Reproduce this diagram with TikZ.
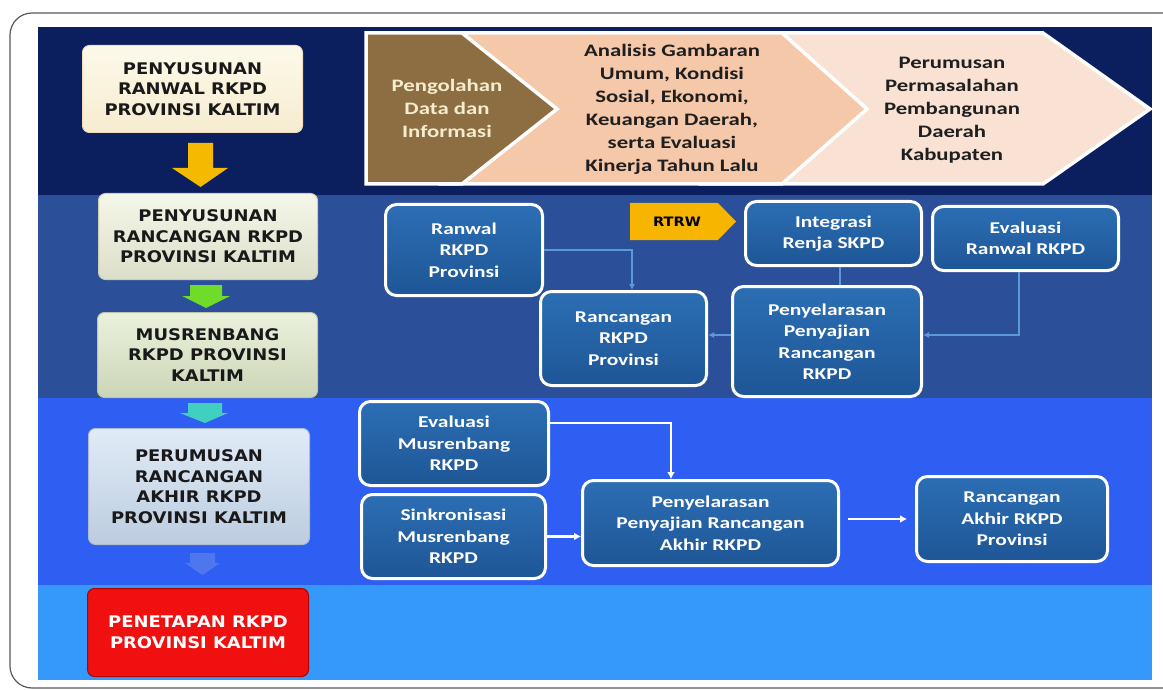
\documentclass[tikz,border=0pt]{standalone}
\usepackage{fontspec}
\newfontfamily\calb[FakeStretch=1.3]{Carlito}
\newfontfamily\dvb[FakeStretch=1.12]{DejaVu Sans}
\usetikzlibrary{arrows.meta,calc,shadows}
\definecolor{bandA}{RGB}{11,31,94}
\definecolor{bandB}{RGB}{43,79,152}
\definecolor{bandC}{RGB}{47,95,242}
\definecolor{bandD}{RGB}{53,152,251}
\definecolor{boxtop}{RGB}{44,110,180}
\definecolor{boxbot}{RGB}{30,86,150}
\definecolor{brownc}{RGB}{140,110,66}
\definecolor{peach}{RGB}{245,200,170}
\definecolor{lpeach}{RGB}{249,226,212}
\definecolor{cream}{RGB}{245,236,205}
\definecolor{lineblue}{RGB}{92,154,214}
\definecolor{gold}{RGB}{247,181,0}
\definecolor{arrY}{RGB}{245,185,0}
\definecolor{arrG}{RGB}{110,220,40}
\definecolor{arrC}{RGB}{64,208,192}
\definecolor{arrF}{RGB}{105,140,235}
\definecolor{boxA}{RGB}{251,245,220}
\definecolor{boxB}{RGB}{238,242,218}
\definecolor{boxC}{RGB}{221,232,198}
\definecolor{boxD}{RGB}{204,222,242}
\definecolor{redbox}{RGB}{240,16,16}
\begin{document}
\begin{tikzpicture}[x=1pt,y=-1pt,
  frame/.style={draw=black!65, line width=1.2pt, rounded corners=22pt},
  chev/.style={draw=white, line width=3.5pt, line join=miter},
  chtxt/.style={align=center, inner sep=0pt, text=black!88, font=\calb\bfseries\fontsize{17.5}{23}\selectfont},
  lbox/.style={rounded corners=7pt, align=center, inner sep=0pt, line width=1pt, text=black!90, font=\dvb\bfseries\fontsize{16}{20.5}\selectfont},
  bbox/.style={rounded corners=11pt, draw=white, line width=3pt, top color=boxtop, bottom color=boxbot, text=white, align=center, inner sep=0pt, drop shadow={shadow xshift=1pt, shadow yshift=-1.5pt, opacity=0.45}, font=\calb\bfseries\fontsize{16.5}{21.5}\selectfont},
  lconn/.style={draw=lineblue, line width=2pt, -{Latex[length=6pt,width=6pt]}},
  wconn/.style={draw=white, line width=2.8pt, -{Latex[length=7pt,width=8pt]}}
]
\useasboundingbox (0,0) rectangle (1163,690);
\clip (0,0) rectangle (1163,690);
\fill[white] (0,0) rectangle (1163,690);
\draw[frame] (1185,13) -- (10,13) -- (10,688) -- (1185,688);

% bands
\fill[bandA] (38,27) rectangle (1152,195);
\fill[bandB] (38,195) rectangle (1152,398);
\fill[bandC] (38,398) rectangle (1152,585);
\fill[bandD] (38,585) rectangle (1152,680);

% chevrons
\draw[chev, fill=lpeach] (700,33) -- (1043,33) -- (1150,109) -- (1043,184) -- (700,184) -- cycle;
\draw[chev, fill=peach] (440,33) -- (782,33) -- (867,109) -- (782,184) -- (440,184) -- cycle;
\draw[chev, fill=brownc] (366,33) -- (462,33) -- (557,109) -- (462,184) -- (366,184) -- cycle;
\node[chtxt, text=cream] (c1) at (447,108) {Pengolahan\\Data dan\\Informasi};
\node[chtxt] (c2) at (672,109) {Analisis Gambaran\\Umum, Kondisi\\Sosial, Ekonomi,\\Keuangan Daerah,\\serta Evaluasi\\Kinerja Tahun Lalu};
\node[chtxt] (c3) at (952,110) {Perumusan\\Permasalahan\\Pembangunan\\Daerah\\Kabupaten};

% left column
\node[lbox, top color=white!40!boxA, bottom color=boxA!92!brown, draw=boxA!80!brown, minimum width=220pt, minimum height=87pt] (L1) at (192.5,89) {PENYUSUNAN\\RANWAL RKPD\\PROVINSI KALTIM};
\node[lbox, top color=white!40!boxB, bottom color=boxB!92!black, draw=boxB!85!black, minimum width=219pt, minimum height=86pt] (L2) at (208,236.5) {PENYUSUNAN\\RANCANGAN RKPD\\PROVINSI KALTIM};
\node[lbox, top color=white!40!boxC, bottom color=boxC!92!black, draw=boxC!85!black, minimum width=220pt, minimum height=85pt] (L3) at (207.5,355) {MUSRENBANG\\RKPD PROVINSI\\KALTIM};
\node[lbox, top color=white!40!boxD, bottom color=boxD!92!black, draw=boxD!85!black, minimum width=221pt, minimum height=116pt] (L4) at (199,486.5) {PERUMUSAN\\RANCANGAN\\AKHIR RKPD\\PROVINSI KALTIM};
\node[lbox, fill=redbox, draw=red!70!black, text=white, minimum width=221pt, minimum height=88pt] (L5) at (198,632.5) {PENETAPAN RKPD\\PROVINSI KALTIM};

% block arrows
\fill[arrY] (188,143) -- (213,143) -- (213,168) -- (228,168) -- (200.5,187) -- (172,168) -- (188,168) -- cycle;
\fill[arrG] (190,285) -- (222,285) -- (222,296) -- (230,296) -- (206,308) -- (182,296) -- (190,296) -- cycle;
\fill[arrC] (188,403) -- (222,403) -- (222,413) -- (228,413) -- (205,423) -- (180,413) -- (188,413) -- cycle;
\fill[arrF, opacity=0.55] (190,553) -- (215,553) -- (215,563) -- (220,563) -- (202.5,575) -- (185,563) -- (190,563) -- cycle;

% band 2 boxes
\node[bbox, minimum width=157pt, minimum height=91pt] (B1) at (464,250) {Ranwal\\RKPD\\Provinsi};
\node[bbox, minimum width=176pt, minimum height=64pt] (B2) at (833.5,233.5) {Integrasi\\Renja SKPD};
\node[bbox, minimum width=186pt, minimum height=64pt] (B3) at (1025.5,238.5) {Evaluasi\\Ranwal RKPD};
\node[bbox, minimum width=166pt, minimum height=94pt] (B4) at (623.5,338.5) {Rancangan\\RKPD\\Provinsi};
\node[bbox, minimum width=189pt, minimum height=110pt] (B5) at (827,341.5) {Penyelarasan\\Penyajian\\Rancangan\\RKPD};
\fill[gold] (630,203) -- (718,203) -- (736,221.5) -- (718,240) -- (630,240) -- cycle;
\node[font=\dvb\bfseries\fontsize{13}{15}\selectfont, text=black, inner sep=0pt] (rtrw) at (677,222) {RTRW};

\draw[lconn] (B1.east) -| ([xshift=8.5pt]B4.north);
\draw[draw=lineblue, line width=2pt] ([xshift=6.5pt]B2.south) -- ([xshift=6.5pt]B2.south |- B5.north);
\draw[lconn] ([xshift=-6.5pt]B3.south) |- ([yshift=6.5pt]B5.east);
\draw[lconn] ([yshift=6.5pt]B5.west) -- ([yshift=6.5pt]B5.west -| B4.east);

% band 3 boxes
\node[bbox, minimum width=189pt, minimum height=84pt] (B6) at (454,443.5) {Evaluasi\\Musrenbang\\RKPD};
\node[bbox, minimum width=184pt, minimum height=84pt] (B7) at (453.5,536.5) {Sinkronisasi\\Musrenbang\\RKPD};
\node[bbox, minimum width=256pt, minimum height=85pt] (B8) at (710.5,523) {Penyelarasan\\Penyajian Rancangan\\Akhir RKPD};
\node[bbox, minimum width=191pt, minimum height=85pt] (B9) at (1012,519) {Rancangan\\Akhir RKPD\\Provinsi};

\draw[wconn] ([yshift=20.5pt]B6.east) -| ([xshift=-39.5pt]B8.north);
\draw[wconn] (B7.east) -- (B7.east -| B8.west);
\draw[wconn, shorten <=8pt, shorten >=8pt] ([yshift=4pt]B8.east) -- ([yshift=4pt]B8.east -| B9.west);
\end{tikzpicture}
\end{document}
